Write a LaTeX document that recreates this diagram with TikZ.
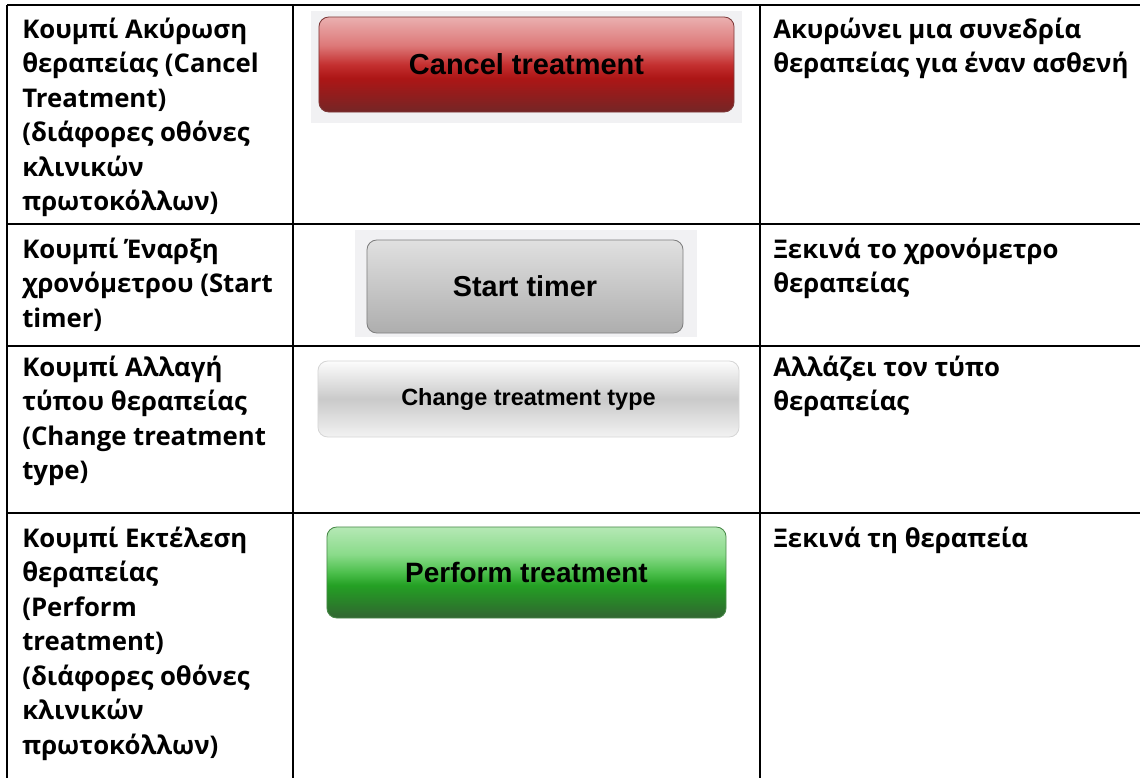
\documentclass[tikz,border=0pt]{standalone}
\usepackage{fontspec}
\setmainfont{Open Sans}
\newfontfamily\btnfont{Liberation Sans}

\definecolor{bggray}{HTML}{F1F1F3}
\definecolor{cancelline}{HTML}{7E3A3A}
\definecolor{startline}{HTML}{7F7F7F}
\definecolor{changeline}{HTML}{D6D6D6}
\definecolor{performline}{HTML}{4A8A4A}

% Button fills (0bp is the bottom, the button spans 25bp to 75bp)
\pgfdeclareverticalshading{cancelshade}{100bp}{color(0bp)=(rgb,255:red,116;green,38;blue,38);
  color(25bp)=(rgb,255:red,116;green,38;blue,38); color(33bp)=(rgb,255:red,142;green,30;blue,30);
  color(43bp)=(rgb,255:red,173;green,22;blue,22); color(50bp)=(rgb,255:red,196;green,48;blue,48);
  color(60bp)=(rgb,255:red,221;green,120;blue,120); color(75bp)=(rgb,255:red,234;green,176;blue,176);
  color(100bp)=(rgb,255:red,234;green,176;blue,176)}
\pgfdeclareverticalshading{performshade}{100bp}{color(0bp)=(rgb,255:red,50;green,100;blue,50);
  color(25bp)=(rgb,255:red,50;green,100;blue,50); color(33bp)=(rgb,255:red,42;green,127;blue,42);
  color(43bp)=(rgb,255:red,36;green,160;blue,36); color(50bp)=(rgb,255:red,76;green,191;blue,76);
  color(60bp)=(rgb,255:red,138;green,219;blue,138); color(75bp)=(rgb,255:red,181;green,232;blue,181);
  color(100bp)=(rgb,255:red,181;green,232;blue,181)}

\begin{document}
\begin{tikzpicture}[x=0.025cm, y=-0.025cm,
  rule/.style={line width=1.4pt},
  % base anchor sits on the last line
  cell/.style={anchor=base west, align=left, inner sep=0pt,
    font=\fontsize{18.3pt}{24.5pt}\selectfont\bfseries},
  btn/.style={draw, line width=0.6pt, rounded corners=7pt, inner sep=0pt,
    font=\fontsize{20.6pt}{24pt}\selectfont\btnfont\bfseries}]
\useasboundingbox (0,0) rectangle (1140,778);

% Draw the grid
\draw[rule] (7,5) -- (1140,5);
\draw[rule] (7,224) -- (1140,224);
\draw[rule] (7,346) -- (1140,346);
\draw[rule] (7,513) -- (1140,513);
\draw[rule] (7,5) -- (7,778);
\draw[rule] (293,5) -- (293,778);
\draw[rule] (760,5) -- (760,778);

% First column: button names
\node[cell] (name1) at (22,210.5) {Κουμπί Ακύρωση\\θεραπείας (Cancel\\Treatment)\\(διάφορες οθόνες\\κλινικών\\πρωτοκόλλων)};
\node[cell] (name2) at (22,327) {Κουμπί Έναρξη\\χρονόμετρου (Start\\timer)};
\node[cell] (name3) at (22,479.5) {Κουμπί Αλλαγή\\τύπου θεραπείας\\(Change treatment\\type)};
\node[cell] (name4) at (22,754) {Κουμπί Εκτέλεση\\θεραπείας\\(Perform\\treatment)\\(διάφορες οθόνες\\κλινικών\\πρωτοκόλλων)};

% Second column: the buttons
\fill[bggray] (311,11) rectangle (742,123);
\node[btn, draw=cancelline, shading=cancelshade, minimum width=10.375cm, minimum height=2.375cm] (cancel) at (526.5,64.5) {Cancel treatment};
\fill[bggray] (355,230) rectangle (697,337);
\node[btn, draw=startline, top color=black!12, bottom color=black!32, minimum width=7.9cm, minimum height=2.325cm,
  font=\fontsize{20.5pt}{24pt}\selectfont\btnfont\bfseries] (start) at (525,286.5) {Start timer};
\node[btn, draw=changeline, top color=black!1, bottom color=black!5, middle color=black!21, minimum width=10.525cm, minimum height=1.9cm,
  font=\fontsize{16.7pt}{20pt}\selectfont\btnfont\bfseries] (change) at (528.5,399) {Change treatment type};
\node[btn, draw=performline, shading=performshade, minimum width=9.975cm, minimum height=2.275cm,
  font=\fontsize{19.9pt}{24pt}\selectfont\btnfont\bfseries] (perform) at (526.5,572.5) {Perform treatment};

% Third column: what each button does
\node[cell] (desc1) at (773,72.5) {Ακυρώνει μια συνεδρία\\θεραπείας για έναν ασθενή};
\node[cell] (desc2) at (773,292.5) {Ξεκινά το χρονόμετρο\\θεραπείας};
\node[cell] (desc3) at (773,410.5) {Αλλάζει τον τύπο\\θεραπείας};
\node[cell] (desc4) at (773,547) {Ξεκινά τη θεραπεία};
\end{tikzpicture}
\end{document}
